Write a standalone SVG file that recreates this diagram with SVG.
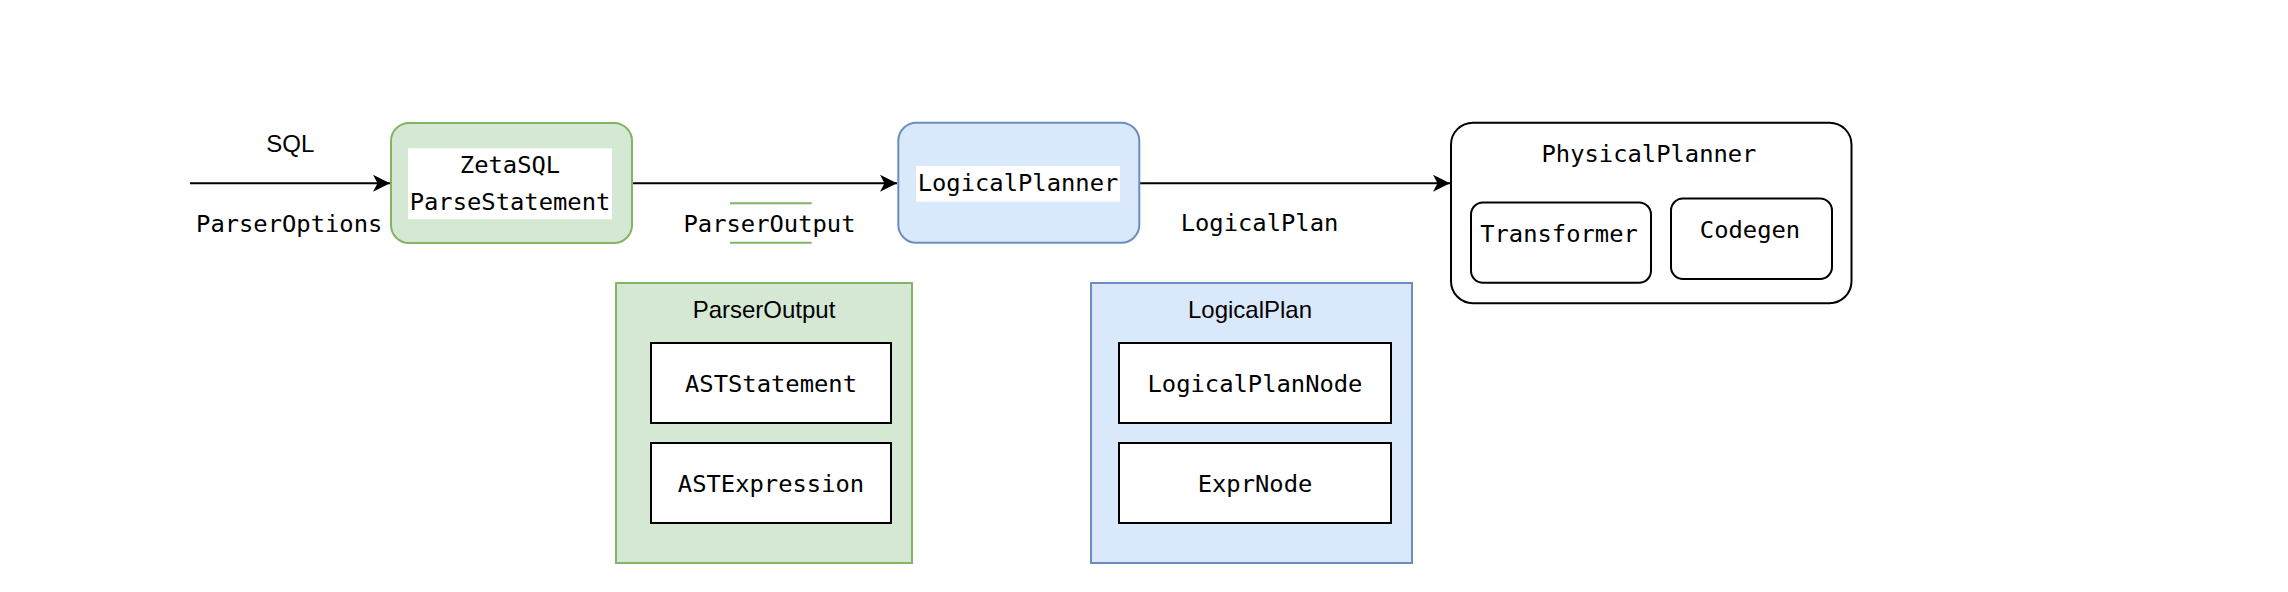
<svg xmlns="http://www.w3.org/2000/svg" width="2288" height="592" viewBox="0 0 2288 592">
<style>
.mono{font-family:"DejaVu Sans Mono","Liberation Mono",monospace;font-size:23.8px;fill:#000;text-anchor:middle}
.sans{font-family:"Liberation Sans",Arial,sans-serif;font-size:24px;fill:#000;text-anchor:middle}
.green{fill:#d5e8d4;stroke:#82b366;stroke-width:2}
.blue{fill:#dae8fc;stroke:#6c8ebf;stroke-width:2}
.plain{fill:#fff;stroke:#000;stroke-width:2}
.edge{fill:none;stroke:#000;stroke-width:2}
</style>
<defs>
<marker id="arrow" viewBox="0 0 10 10" refX="10" refY="5" markerWidth="8.5" markerHeight="8.5" markerUnits="userSpaceOnUse" orient="auto" overflow="visible">
<path d="M10,5 L0,0 L2.5,5 L0,10 Z" fill="#000" stroke="none" transform="scale(1.9,1.9) translate(-5.2,-2.6)"/>
</marker>
<marker id="arr" markerUnits="userSpaceOnUse" orient="auto" overflow="visible" refX="0" refY="0" markerWidth="1" markerHeight="1">
<path d="M0,0 L-17,-8.5 L-12.5,0 L-17,8.5 Z" fill="#000"/>
</marker>
</defs>
<rect width="2288" height="592" fill="#fff"/>
<g id="connectors">
<line class="edge" x1="190" y1="183.3" x2="390" y2="183.3" marker-end="url(#arr)"/>
<line class="edge" x1="632" y1="183.3" x2="897" y2="183.3" marker-end="url(#arr)"/>
<line class="edge" x1="1140" y1="183.3" x2="1450" y2="183.3" marker-end="url(#arr)"/>
<text class="sans" x="290.3" y="151.7" font-size="23">SQL</text>
<text class="mono" x="289.2" y="231.7">ParserOptions</text>
<line x1="730" y1="203.3" x2="811.7" y2="203.3" stroke="#82b366" stroke-width="2"/>
<line x1="730" y1="242.7" x2="811.7" y2="242.7" stroke="#82b366" stroke-width="2"/>
<text class="mono" x="769.5" y="231.7">ParserOutput</text>
<text class="mono" x="1259.5" y="231">LogicalPlan</text>
</g>
<g id="zetasql">
<rect class="green" x="391" y="123" width="241" height="120" rx="18" ry="18"/>
<rect x="408" y="148.3" width="204" height="71" fill="#fff"/>
<text class="mono" x="510" y="173.3">ZetaSQL</text>
<text class="mono" x="510" y="210">ParseStatement</text>
</g>
<g id="logicalplanner">
<rect class="blue" x="898.3" y="122.7" width="241" height="120" rx="18" ry="18"/>
<rect x="916" y="166" width="204" height="35.7" fill="#fff"/>
<text class="mono" x="1018" y="191">LogicalPlanner</text>
</g>
<g id="physicalplanner">
<rect class="plain" x="1451" y="122.7" width="400.5" height="180.5" rx="22" ry="22"/>
<text class="mono" x="1649" y="161.7">PhysicalPlanner</text>
</g>
<g id="transformer">
<rect class="plain" x="1471" y="202.5" width="180" height="80.3" rx="12" ry="12"/>
<text class="mono" x="1559" y="242.3">Transformer</text>
</g>
<g id="codegen">
<rect class="plain" x="1671" y="198.5" width="161" height="80.5" rx="12" ry="12"/>
<text class="mono" x="1750" y="237.7">Codegen</text>
</g>
<g id="parseroutput">
<rect class="green" x="616" y="283" width="296" height="280"/>
<text class="sans" x="764" y="317.7">ParserOutput</text>
</g>
<g id="aststatement">
<rect class="plain" x="651" y="343" width="240" height="80"/>
<text class="mono" x="771" y="391.7">ASTStatement</text>
</g>
<g id="astexpression">
<rect class="plain" x="651" y="443" width="240" height="80"/>
<text class="mono" x="771" y="491.7">ASTExpression</text>
</g>
<g id="logicalplan">
<rect class="blue" x="1091" y="283" width="321" height="280"/>
<text class="sans" x="1250" y="317.7">LogicalPlan</text>
</g>
<g id="logicalplannode">
<rect class="plain" x="1119" y="343" width="272" height="80"/>
<text class="mono" x="1255" y="391.7">LogicalPlanNode</text>
</g>
<g id="exprnode">
<rect class="plain" x="1119" y="443" width="272" height="80"/>
<text class="mono" x="1255" y="491.7">ExprNode</text>
</g>
</svg>
